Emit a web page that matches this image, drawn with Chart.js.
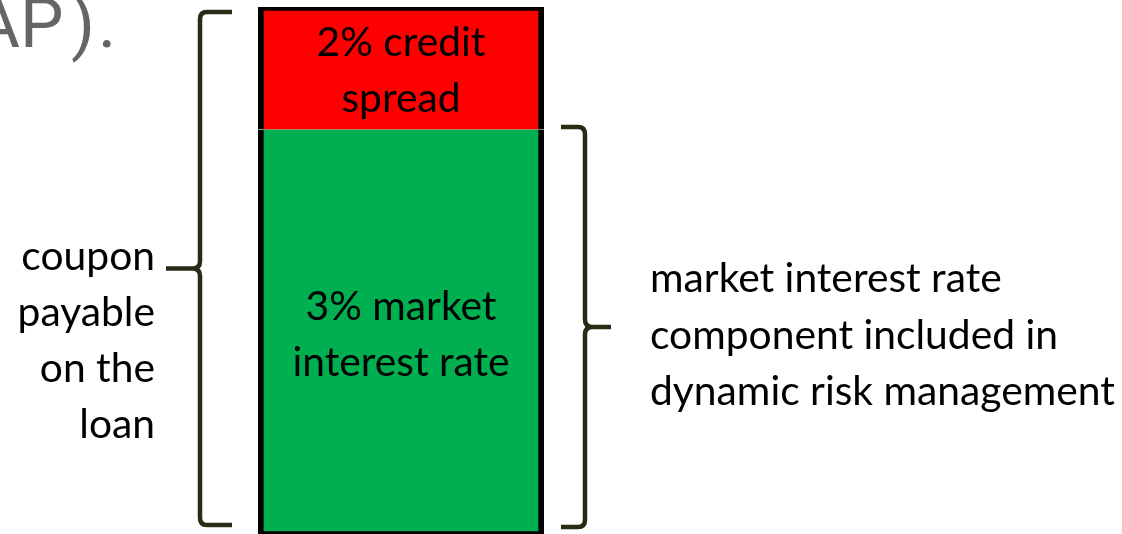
<!DOCTYPE html>
<html>
<head>
<meta charset="utf-8">
<style>
  html, body { margin: 0; padding: 0; background: #ffffff; overflow: hidden; }
  #wrap { width: 1122px; height: 534px; position: relative; }
  canvas { display: block; }
</style>
<script src="https://cdn.jsdelivr.net/npm/chart.js@4/dist/chart.umd.min.js"></script>
</head>
<body>
<div id="wrap"><canvas id="c" width="1122" height="534"></canvas></div>
<script>
// ---- data (relative drawn heights of the two stacked segments) ----
const categories = ['loan coupon'];
const marketRateHeight = [3.3];     // green segment
const creditSpreadHeight = [1.0];   // red segment
const marketLabel = ['3% market', 'interest rate'];
const spreadLabel = ['2% credit', 'spread'];
const couponLabel = ['coupon', 'payable', 'on the', 'loan'];
const drmLabel = ['market interest rate', 'component included in', 'dynamic risk management'];
const titleFragment = 'AP).';

const FONT_FAMILY = 'Lato, "Open Sans", "Noto Sans", sans-serif';
const BRACE_COLOR = '#272d15';
// ink-left x of each glyph in the cut-off title fragment (layout only)
const TITLE_GLYPH_X = [-25, 25, 72, 102];

function fitFontSize(ctx, text, targetWidth) {
  ctx.font = '42px ' + FONT_FAMILY;
  const w = ctx.measureText(text).width;
  return 42 * targetWidth / w;
}

function drawBrace(ctx, x, top, bottom, tipY, tipX, endX) {
  const dir = Math.sign(endX - x);
  const tdir = Math.sign(tipX - x);
  const r = 7;
  ctx.beginPath();
  ctx.moveTo(endX, top);
  ctx.lineTo(x + dir * r, top);
  ctx.quadraticCurveTo(x, top, x, top + r);
  ctx.lineTo(x, tipY - 7);
  ctx.quadraticCurveTo(x, tipY, x + tdir * 8, tipY);
  ctx.lineTo(tipX, tipY);
  ctx.moveTo(x + tdir * 8, tipY);
  ctx.quadraticCurveTo(x, tipY, x, tipY + 7);
  ctx.lineTo(x, bottom - r);
  ctx.quadraticCurveTo(x, bottom, x + dir * r, bottom);
  ctx.lineTo(endX, bottom);
  ctx.stroke();
}

const annotate = {
  id: 'annotate',
  afterDatasetsDraw(chart) {
    const ctx = chart.ctx;
    const green = chart.getDatasetMeta(0).data[0];
    const red = chart.getDatasetMeta(1).data[0];
    const barLeft = green.x - green.width / 2;
    const barRight = green.x + green.width / 2;
    const size = fitFontSize(ctx, drmLabel[2], 465);
    ctx.save();
    ctx.font = size + 'px ' + FONT_FAMILY;
    ctx.fillStyle = '#000000';
    ctx.textBaseline = 'alphabetic';

    // labels inside segments
    ctx.textAlign = 'center';
    const gc = (green.y + green.base) / 2;
    marketLabel.forEach((t, i) => ctx.fillText(t, green.x, gc - 12 + i * 56));
    const rc = (red.y + red.base) / 2;
    spreadLabel.forEach((t, i) => ctx.fillText(t, red.x, rc - 12 + i * 56));

    // left brace (whole coupon)
    ctx.strokeStyle = BRACE_COLOR;
    ctx.lineWidth = 4.5;
    const lTop = red.y + 5, lBot = green.base - 9;
    const lTipY = (lTop + lBot) / 2;
    const lx = barLeft - 58;
    drawBrace(ctx, lx, lTop, lBot, lTipY, lx - 34, lx + 32);
    ctx.textAlign = 'right';
    couponLabel.forEach((t, i) => ctx.fillText(t, lx - 45, lTipY + 1 + i * 56));

    // right brace (market component)
    const rTop = green.y - 2.5, rBot = green.base - 7;
    const rTipY = (rTop + rBot) / 2;
    const rx = barRight + 41;
    drawBrace(ctx, rx, rTop, rBot, rTipY, rx + 26, rx - 24);
    ctx.textAlign = 'left';
    drmLabel.forEach((t, i) => ctx.fillText(t, rx + 65, rTipY - 35 + i * 56.5));

    // leftover slide-title fragment (cut off at the left edge)
    ctx.font = '69px Roboto, "Liberation Sans", sans-serif';
    ctx.fillStyle = '#656565';
    ctx.textAlign = 'left';
    titleFragment.split('').forEach((ch, i) => {
      const m = ctx.measureText(ch);
      const inkLeft = -(m.actualBoundingBoxLeft || 0);
      ctx.fillText(ch, TITLE_GLYPH_X[i] - inkLeft, 47);
    });
    ctx.restore();
  }
};

function build() {
  const total = marketRateHeight[0] + creditSpreadHeight[0];
  new Chart(document.getElementById('c'), {
    type: 'bar',
    data: {
      labels: categories,
      datasets: [
        {
          label: 'market interest rate',
          data: marketRateHeight,
          backgroundColor: '#00b050',
          borderColor: '#000000',
          borderWidth: { left: 6, right: 6, top: 0, bottom: 3 },
          borderSkipped: false
        },
        {
          label: 'credit spread',
          data: creditSpreadHeight,
          backgroundColor: '#ff0000',
          borderColor: '#000000',
          borderWidth: { left: 6, right: 6, top: 4, bottom: 0 },
          borderSkipped: false
        }
      ]
    },
    options: {
      responsive: false,
      animation: false,
      devicePixelRatio: 1,
      layout: { padding: { left: 258, right: 578, top: 7, bottom: 0 } },
      datasets: { bar: { barPercentage: 1, categoryPercentage: 1 } },
      scales: {
        x: { stacked: true, display: false },
        y: { stacked: true, display: false, min: 0, max: total }
      },
      plugins: { legend: { display: false }, tooltip: { enabled: false } }
    },
    plugins: [annotate]
  });
}

if (document.fonts && document.fonts.load) {
  Promise.all([
    document.fonts.load('42px Lato'),
    document.fonts.load('69px Roboto')
  ]).then(build, build);
} else {
  build();
}
</script>
</body>
</html>
